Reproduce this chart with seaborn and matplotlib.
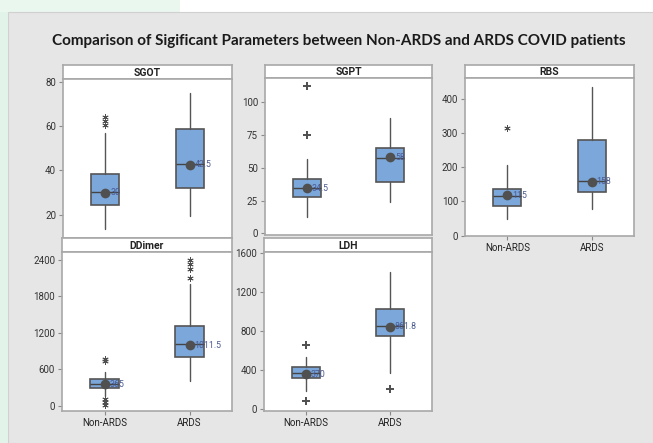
"""Minitab-style boxplot panels: Non-ARDS vs ARDS COVID patients."""

import matplotlib
matplotlib.use("Agg")
import matplotlib.pyplot as plt
from matplotlib.patches import Rectangle
import seaborn as sns

W, H = 653, 443

groups = ["Non-ARDS", "ARDS"]
params = ["SGOT", "SGPT", "RBS", "DDimer", "LDH"]

# box statistics, [Non-ARDS, ARDS]
q1 = {"SGOT": [24.5, 32.3], "SGPT": [27.7, 39.4], "RBS": [86.8, 128.7],
      "DDimer": [297, 803], "LDH": [315, 750]}
median = {"SGOT": [30.2, 42.8], "SGPT": [34.6, 57.6], "RBS": [116, 160],
          "DDimer": [357, 1017], "LDH": [373, 856]}
q3 = {"SGOT": [38.3, 58.7], "SGPT": [41.1, 65.2], "RBS": [136.5, 279.8],
      "DDimer": [435, 1318], "LDH": [435, 1028]}
whisker_lo = {"SGOT": [13.5, 19.7], "SGPT": [12.6, 24.2], "RBS": [48, 78],
              "DDimer": [160, 412], "LDH": [188, 373]}
whisker_hi = {"SGOT": [57, 74.8], "SGPT": [56.3, 87.9], "RBS": [206.7, 434],
              "DDimer": [550, 2000], "LDH": [538, 1405]}
mean = {"SGOT": [30, 42.5], "SGPT": [34.5, 58], "RBS": [118, 158],
        "DDimer": [352, 1000], "LDH": [357, 846]}
mean_labels = {"SGOT": ["30", "42.5"], "SGPT": ["34.5", "58"], "RBS": ["115", "158"],
               "DDimer": ["365", "1011.5"], "LDH": ["370", "861.8"]}
outliers = {"SGOT": [[64, 62.5, 60.7], []], "SGPT": [[112.3, 75], []],
            "RBS": [[314], []], "DDimer": [[765, 735, 110, 60, 10], [2400, 2330, 2250, 2100]],
            "LDH": [[658, 85], [205]]}

y_limits = {"SGOT": (9.6, 81.2), "SGPT": (-1.3, 118.4), "RBS": (-1, 461),
            "DDimer": (-87, 2533), "LDH": (-21, 1614)}
y_ticks = {"SGOT": [20, 40, 60, 80], "SGPT": [0, 25, 50, 75, 100],
           "RBS": [0, 100, 200, 300, 400], "DDimer": [0, 600, 1200, 1800, 2400],
           "LDH": [0, 400, 800, 1200, 1600]}

# panel geometry in pixels: x0, x1, header top, header bottom, plot bottom
layout = {"SGOT": (63, 232, 65, 79, 238), "SGPT": (265, 432, 65, 78, 235),
          "RBS": (465, 634, 65, 78, 236), "DDimer": (62, 232, 238, 252, 411),
          "LDH": (264, 432, 238, 252, 411)}
show_x = {"SGOT": False, "SGPT": False, "RBS": True, "DDimer": True, "LDH": True}
flier_marker = {"SGOT": (6, 2, 0), "SGPT": "+", "RBS": (6, 2, 0),
                "DDimer": (6, 2, 0), "LDH": "+"}

BOX_BLUE = "#7ba7da"
EDGE = "#555555"
FRAME = "#a8a8a8"


def px_rect(x0, y0, x1, y1):
    return [x0 / W, 1 - y1 / H, (x1 - x0) / W, (y1 - y0) / H]


def draw_panel(fig, name):
    x0, x1, ht, hb, pb = layout[name]

    # header strip
    axh = fig.add_axes(px_rect(x0, ht, x1, hb))
    axh.set_facecolor("white")
    axh.set_xticks([])
    axh.set_yticks([])
    for sp in axh.spines.values():
        sp.set_color(FRAME)
        sp.set_linewidth(1.2)
    axh.text(0.5, 0.45, name, ha="center", va="center", fontsize=7.5,
             fontweight="semibold", color="#222222", transform=axh.transAxes)

    ax = fig.add_axes(px_rect(x0, hb, x1, pb))
    ax.set_facecolor("white")
    stats = []
    for i in range(2):
        stats.append({"q1": q1[name][i], "med": median[name][i], "q3": q3[name][i],
                      "whislo": whisker_lo[name][i], "whishi": whisker_hi[name][i],
                      "fliers": outliers[name][i]})
    is_plus = flier_marker[name] == "+"
    ax.bxp(stats, positions=[0, 1], widths=0.33, patch_artist=True,
           showcaps=False, manage_ticks=False,
           boxprops=dict(facecolor=BOX_BLUE, edgecolor=EDGE, linewidth=1.2),
           medianprops=dict(color="#444444", linewidth=1),
           whiskerprops=dict(color=EDGE, linewidth=1),
           flierprops=dict(marker=flier_marker[name], markersize=5.5 if is_plus else 4.5,
                           markeredgecolor="#4f4f4f", markerfacecolor="#4f4f4f",
                           markeredgewidth=1.4 if is_plus else 0.6, linestyle="none"))
    sns.stripplot(x=groups, y=mean[name], jitter=False, color="#505050",
                  size=7, linewidth=0, zorder=5, ax=ax)
    for i in range(2):
        ax.annotate(mean_labels[name][i], (i, mean[name][i]), xytext=(3.5, 0),
                    textcoords="offset points", va="center", ha="left",
                    fontsize=6.3, color="#4a5a92", zorder=6)

    ax.set_xlim(-0.5, 1.5)
    ax.set_ylim(*y_limits[name])
    ax.set_yticks(y_ticks[name])
    ax.set_xlabel("")
    ax.set_ylabel("")
    for sp in ax.spines.values():
        sp.set_visible(True)
        sp.set_color(FRAME)
        sp.set_linewidth(1.2)
    ax.tick_params(axis="y", length=3, width=0.8, color="#8a8a8a", pad=2,
                   labelsize=7, labelcolor="#333333", left=True)
    if show_x[name]:
        ax.set_xticks([0, 1])
        ax.set_xticklabels(groups)
        ax.tick_params(axis="x", length=3, width=0.8, color="#8a8a8a", pad=2,
                       labelsize=7, labelcolor="#222222", bottom=True)
    else:
        ax.set_xticks([])


def main() -> None:
    sns.set_theme(style="white")
    plt.rcParams["font.family"] = ["Roboto", "DejaVu Sans"]

    fig = plt.figure(figsize=(W / 100, H / 100), dpi=100)
    fig.patch.set_facecolor("white")
    # page backdrop from the screenshot
    fig.patches.append(Rectangle((0, 0), 8 / W, 1, transform=fig.transFigure,
                                 facecolor="#e2f4e9", edgecolor="none", zorder=-3))
    fig.patches.append(Rectangle((0, 1 - 12 / H), 180 / W, 12 / H, transform=fig.transFigure,
                                 facecolor="#eaf7ef", edgecolor="none", zorder=-3))
    fig.patches.append(Rectangle((8 / W, 0), 1 - 8 / W, 1 - 12 / H, transform=fig.transFigure,
                                 facecolor="#e6e6e6", edgecolor="#d0d0d0", linewidth=0.8,
                                 zorder=-2))

    fig.text(339 / W, 1 - 41 / H,
             "Comparison of Sigificant Parameters between Non-ARDS and ARDS COVID patients",
             ha="center", va="center", fontsize=11, fontweight="bold",
             family=["Lato", "DejaVu Sans"], color="#1a1a1a")

    for name in params:
        draw_panel(fig, name)

    fig.savefig("out.png", dpi=100, facecolor=fig.get_facecolor())
    plt.close(fig)


if __name__ == "__main__":
    main()
